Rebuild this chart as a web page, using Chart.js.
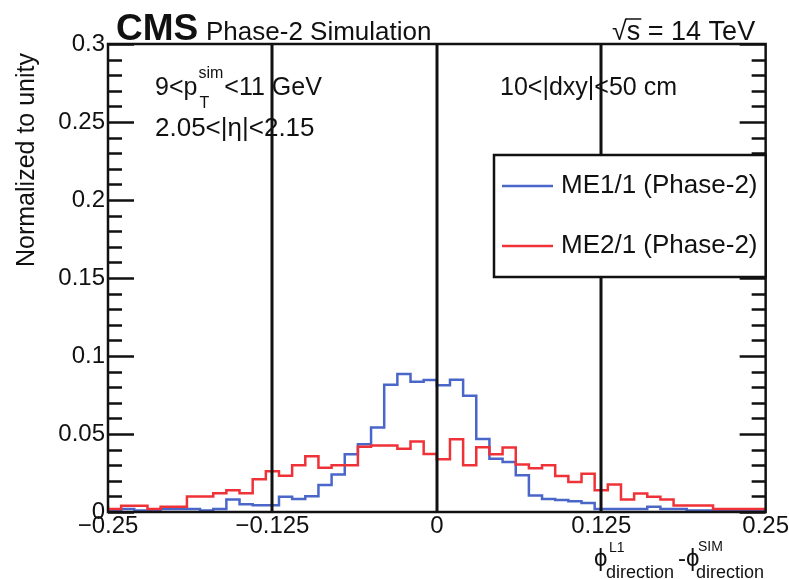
<!DOCTYPE html>
<html lang="en">
<head>
    <meta charset="UTF-8">
    <title>Phi direction resolution</title>
    <script src="https://cdn.jsdelivr.net/npm/chart.js"></script>
    <style>
        body { margin: 0; background: #fff; }
        #wrap { width: 789px; height: 579px; }
    </style>
</head>
<body>
    <div id="wrap"><canvas id="histChart" width="789" height="579"></canvas></div>

    <script>
        // histogram binning (50 bins of 0.01 from -0.25 to 0.25)
        const binLow = -0.25;
        const binWidth = 0.01;

        // bin contents
        const me11 = [
            0.001, 0.001, 0.002, 0.001, 0.001, 0.002, 0.002, 0.002, 0.001, 0.002,
            0.008, 0.005, 0.0044, 0.0044, 0.0098, 0.0083, 0.0101, 0.0173, 0.0241, 0.037,
            0.0434, 0.0541, 0.0815, 0.0884, 0.0835, 0.0846, 0.0813, 0.0848, 0.0745, 0.0468,
            0.0342, 0.032, 0.0235, 0.0106, 0.0083, 0.0077, 0.0069, 0.0058, 0.002, 0.002,
            0.002, 0.002, 0.0033, 0.002, 0.002, 0.001, 0.001, 0.0005, 0.0005, 0.0005
        ];
        const me21 = [
            0.004, 0.002, 0.004, 0.004, 0.002, 0.0033, 0.0033, 0.010, 0.010, 0.012,
            0.014, 0.012, 0.021, 0.0262, 0.0232, 0.0299, 0.0357, 0.0284, 0.030, 0.030,
            0.0418, 0.0427, 0.0427, 0.0406, 0.0452, 0.0372, 0.0338, 0.0466, 0.030, 0.0415,
            0.037, 0.0413, 0.0305, 0.028, 0.030, 0.023, 0.0192, 0.0245, 0.014, 0.0177,
            0.008, 0.0119, 0.0097, 0.008, 0.0042, 0.0042, 0.0042, 0.002, 0.002, 0.002
        ];

        const xTicks = [-0.25, -0.125, 0, 0.125, 0.25];
        const yTicks = [0, 0.05, 0.1, 0.15, 0.2, 0.25, 0.3];
        const cutLines = [-0.125, 0, 0.125];
        const seriesNames = ['ME1/1 (Phase-2)', 'ME2/1 (Phase-2)'];

        const FONT = '"Liberation Sans", Arial, Helvetica, sans-serif';
        const INK = '#111';
        const BLUE = '#4a66c8';
        const RED = '#ef3238';

        function toSteps(vals) {
            const pts = vals.map((v, i) => ({ x: binLow + i * binWidth, y: v }));
            pts.push({ x: binLow + vals.length * binWidth, y: vals[vals.length - 1] });
            return pts;
        }

        function fmtTick(v) {
            const s = String(+v.toFixed(3));
            return s.startsWith('-') ? '\u2212' + s.slice(1) : s;
        }

        // draws frame, ROOT style ticks, cut lines, legend and labels
        const decorations = {
            id: 'decorations',
            afterDatasetsDraw(chart) {
                const ctx = chart.ctx;
                const a = chart.chartArea;
                const xs = chart.scales.x, ys = chart.scales.y;
                ctx.save();
                ctx.strokeStyle = INK;

                // vertical cut lines
                ctx.lineWidth = 3;
                cutLines.forEach(c => {
                    const px = Math.round(xs.getPixelForValue(c));
                    ctx.beginPath();
                    ctx.moveTo(px, a.top);
                    ctx.lineTo(px, a.bottom);
                    ctx.stroke();
                });

                // y ticks on both sides, pointing inward
                ctx.lineWidth = 2.5;
                for (let k = 0; k <= 30; k++) {
                    const py = Math.round(ys.getPixelForValue(k * 0.01)) + 0.5;
                    const len = k % 5 === 0 ? 26 : 14;
                    ctx.beginPath();
                    ctx.moveTo(a.left, py); ctx.lineTo(a.left + len, py);
                    ctx.moveTo(a.right, py); ctx.lineTo(a.right - len, py);
                    ctx.stroke();
                }

                // frame
                ctx.lineWidth = 2.5;
                ctx.strokeRect(a.left, a.top, a.right - a.left, a.bottom - a.top);

                // legend box
                const lx = 494, ly = 155, lw = a.right - 494, lh = 122;
                ctx.fillStyle = '#fff';
                ctx.fillRect(lx, ly, lw, lh);
                ctx.lineWidth = 2.5;
                ctx.strokeRect(lx, ly, lw, lh);
                ctx.font = '26px ' + FONT;
                ctx.textBaseline = 'middle';
                ctx.textAlign = 'left';
                [[BLUE, 186], [RED, 246]].forEach(([col, y], i) => {
                    ctx.strokeStyle = col;
                    ctx.lineWidth = 2.5;
                    ctx.beginPath();
                    ctx.moveTo(502, y); ctx.lineTo(553, y);
                    ctx.stroke();
                    ctx.fillStyle = INK;
                    ctx.fillText(seriesNames[i], 561, y);
                });

                // header texts
                ctx.fillStyle = INK;
                ctx.textBaseline = 'alphabetic';
                ctx.font = 'bold 37px ' + FONT;
                ctx.fillText('CMS', 116, 40);
                ctx.font = '26px ' + FONT;
                ctx.fillText('Phase-2 Simulation', 206, 40);
                // sqrt(s) = 14 TeV
                ctx.font = '27px ' + FONT;
                ctx.fillText('\u221A', 612, 40);
                const rw = ctx.measureText('\u221A').width;
                ctx.fillText('s = 14 TeV', 612 + rw, 40);
                const sw = ctx.measureText('s').width;
                ctx.strokeStyle = INK;
                ctx.lineWidth = 1.5;
                ctx.beginPath();
                ctx.moveTo(612 + rw - 1, 19); ctx.lineTo(612 + rw + sw + 1, 19);
                ctx.stroke();

                // selection texts
                let x = 155;
                ctx.font = '25px ' + FONT;
                ctx.fillText('9<p', x, 95);
                x += ctx.measureText('9<p').width;
                ctx.font = '16px ' + FONT;
                ctx.fillText('sim', x + 1, 78);
                ctx.fillText('T', x + 2, 108);
                x += ctx.measureText('sim').width + 2;
                ctx.font = '25px ' + FONT;
                ctx.fillText('<11 GeV', x, 95);
                ctx.font = '26px ' + FONT;
                ctx.fillText('2.05<|\u03B7|<2.15', 155, 136);
                ctx.font = '25px ' + FONT;
                ctx.fillText('10<|dxy|<50 cm', 500, 95);

                // x axis title: phi^L1_direction - phi^SIM_direction
                ctx.font = '24px ' + FONT;
                ctx.fillText('\u03D5', 594, 566);
                ctx.fillText('-\u03D5', 678, 566);
                ctx.font = '14px ' + FONT;
                ctx.fillText('L1', 609, 552);
                ctx.fillText('SIM', 698, 551);
                ctx.font = '18px ' + FONT;
                ctx.fillText('direction', 606, 578);
                ctx.fillText('direction', 696, 578);

                // y axis title
                ctx.save();
                ctx.translate(34, 160);
                ctx.rotate(-Math.PI / 2);
                ctx.textAlign = 'center';
                ctx.font = '25px ' + FONT;
                ctx.fillText('Normalized to unity', 0, 0);
                ctx.restore();

                ctx.restore();
            }
        };

        new Chart(document.getElementById('histChart'), {
            type: 'line',
            data: {
                datasets: [
                    { label: seriesNames[1], data: toSteps(me21), borderColor: RED,
                      borderWidth: 2.5, stepped: 'after', pointRadius: 0, fill: false, order: 0 },
                    { label: seriesNames[0], data: toSteps(me11), borderColor: BLUE,
                      borderWidth: 2.5, stepped: 'after', pointRadius: 0, fill: false, order: 1 }
                ]
            },
            options: {
                responsive: false,
                animation: false,
                layout: { padding: { top: 44, right: 23, left: 0, bottom: 0 } },
                plugins: { legend: { display: false }, tooltip: { enabled: false } },
                scales: {
                    x: {
                        type: 'linear', min: -0.25, max: 0.25,
                        grid: { display: false, drawTicks: false },
                        border: { display: false },
                        afterBuildTicks: s => { s.ticks = xTicks.map(v => ({ value: v })); },
                        afterFit: s => { s.height = 67; },
                        ticks: { padding: 0, maxRotation: 0, color: INK,
                                 font: { family: FONT, size: 24 }, callback: v => fmtTick(v) }
                    },
                    y: {
                        min: 0, max: 0.3,
                        grid: { display: false, drawTicks: false },
                        border: { display: false },
                        afterBuildTicks: s => { s.ticks = yTicks.map(v => ({ value: v })); },
                        afterFit: s => { s.width = 108; },
                        ticks: { padding: 3, color: INK,
                                 font: { family: FONT, size: 24 }, callback: v => fmtTick(v) }
                    }
                }
            },
            plugins: [decorations]
        });
    </script>
</body>
</html>
